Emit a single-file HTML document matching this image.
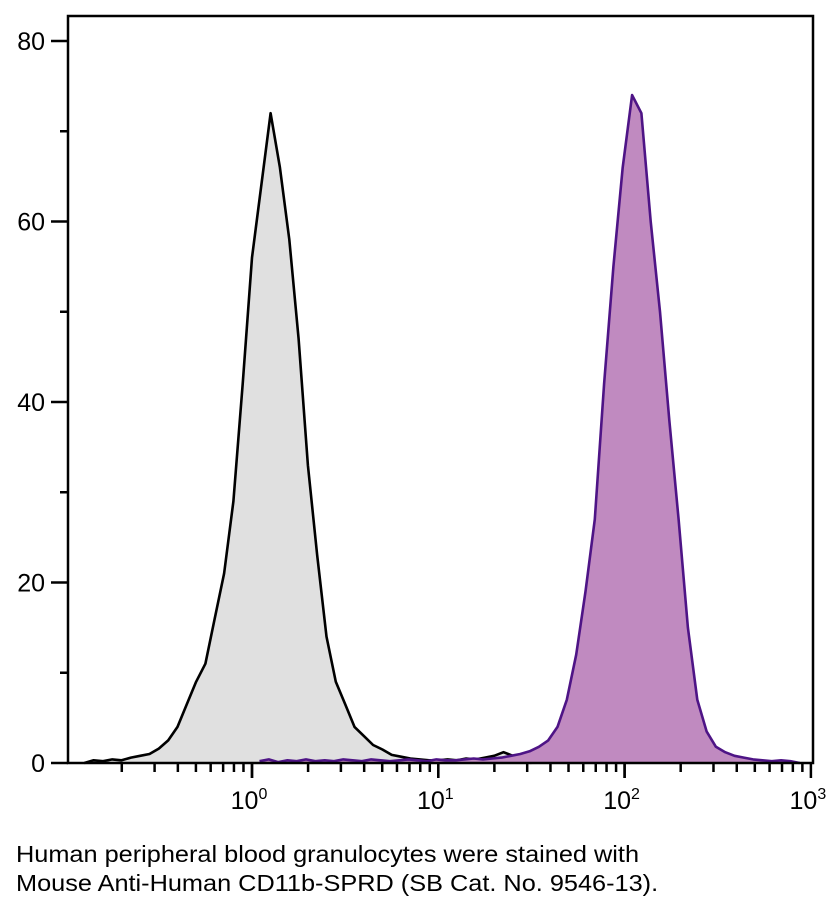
<!DOCTYPE html>
<html><head><meta charset="utf-8"><style>
body{margin:0;background:#fff;width:840px;height:908px;overflow:hidden;font-family:"Liberation Sans",sans-serif}
.cap{position:absolute;left:16px;font-size:23px;color:#000;transform:scaleX(1.1);transform-origin:0 0;white-space:nowrap}
</style></head><body>
<svg id="chart" width="840" height="830" style="position:absolute;left:0;top:0"></svg>
<div class="cap" style="top:840px;line-height:29px">Human peripheral blood granulocytes were stained with<br>Mouse Anti-Human CD11b-SPRD (SB Cat. No. 9546-13).</div>
<script>
const yTicks=[0,20,40,60,80];
const xDecades=[0,1,2,3];
const grayStart=-0.9, purpleStart=0.04, binW=0.05;
const grayCounts=[0,0.3,0.2,0.4,0.3,0.6,0.8,1.0,1.6,2.5,4,6.5,9,11,16,21,29,42,56,64,72,66,58,47,33,23,14,9,6.5,4,3,2,1.5,0.9,0.7,0.5,0.4,0.3,0.3,0.4,0.3,0.5,0.4,0.6,0.8,1.2,0.8,0.3,0];
const purpleCounts=[0.2,0.4,0.1,0.3,0.2,0.4,0.2,0.3,0.2,0.4,0.3,0.2,0.4,0.3,0.2,0.3,0.4,0.3,0.2,0.4,0.3,0.3,0.4,0.5,0.4,0.5,0.6,0.8,1.0,1.3,1.8,2.5,4,7,12,19,27,42,55,66,74,72,60,50,38,27,15,7,3.5,1.8,1.2,0.8,0.6,0.4,0.3,0.2,0.3,0.2,0];
const NS='http://www.w3.org/2000/svg';
const svg=document.getElementById('chart');
const L=68,R=813,T=16,B=763;
const X=v=>252+(v)*186.3;
const Y=v=>B-v*(B-41)/80;
function el(t,a){const e=document.createElementNS(NS,t);for(const k in a)e.setAttribute(k,a[k]);svg.appendChild(e);return e;}
function series(counts,start,fill,stroke,name){
  let pts=counts.map((c,i)=>[X(start+i*binW),Y(c)]);
  let d='M'+pts[0][0]+','+B+' '+pts.map(p=>'L'+p[0].toFixed(1)+','+p[1].toFixed(1)).join(' ')+' L'+pts[pts.length-1][0]+','+B+'Z';
  const a=el('path',{d:d,fill:fill,stroke:'none'});
  
  
  const l=el('path',{d:'M'+pts.map(p=>p[0].toFixed(1)+','+p[1].toFixed(1)).join(' L'),fill:'none',stroke:stroke,'stroke-width':2.6,'stroke-linejoin':'round'});
  
  
}
series(grayCounts,grayStart,'#e0e0e0','#000','isotype-histogram');
series(purpleCounts,purpleStart,'#c08ac0','#4e1486','cd11b-histogram');
const f=el('rect',{x:L,y:T,width:R-L,height:B-T,fill:'none',stroke:'#000','stroke-width':2.5});


for(let v=0;v<=80;v+=10){
  const maj=yTicks.includes(v);
  el('line',{x1:maj?51:60,x2:L,y1:Y(v),y2:Y(v),stroke:'#000','stroke-width':2.5});
  if(maj){const t=el('text',{x:45,y:Y(v)+9,'text-anchor':'end','font-size':25,'font-family':'Liberation Sans, sans-serif'});t.textContent=v;
  
  }
}
const xmin=(L-252)/186.3;
for(let d=-1;d<=2;d++)for(let k=1;k<10;k++){
  const v=d+Math.log10(k); if(v<xmin||v>3)continue;
  const maj=k===1;
  el('line',{x1:X(v),x2:X(v),y1:B,y2:B+(maj?15:9),stroke:'#000','stroke-width':2.5});
}
xDecades.forEach(d=>{
  const x=Math.min(X(d),811);
  el('line',{x1:x,x2:x,y1:B,y2:B+15,stroke:'#000','stroke-width':2.5});
  const t=el('text',{x:x-3,y:B+46,'text-anchor':'middle','font-size':25,'font-family':'Liberation Sans, sans-serif'});
  
  
  t.innerHTML='10<tspan dy="-10" font-size="16">'+d+'</tspan>';
});
</script>
</body></html>
